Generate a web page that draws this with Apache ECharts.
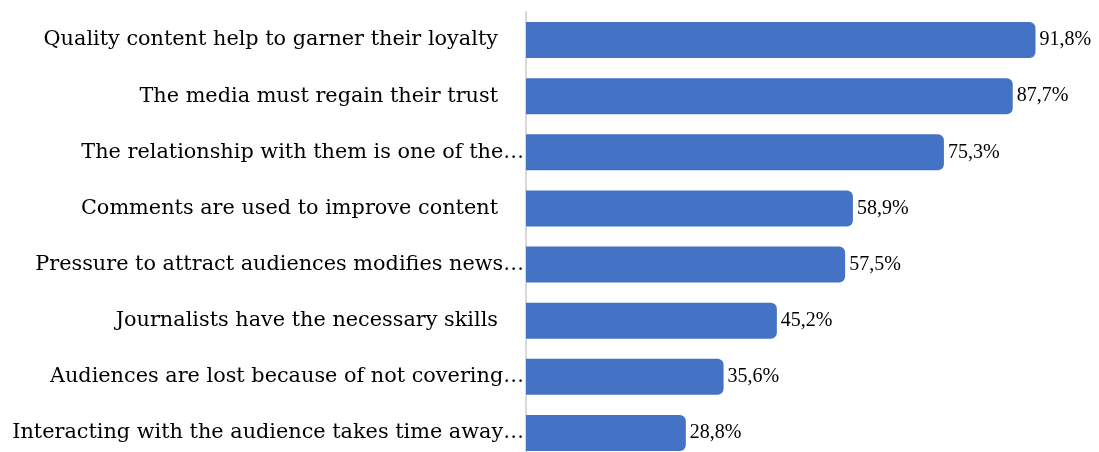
<!DOCTYPE html>
<html>
<head>
<meta charset="utf-8">
<script src="https://cdn.jsdelivr.net/npm/echarts@6/dist/echarts.min.js"></script>
<style>
  html, body { margin: 0; padding: 0; background: #ffffff; }
  #chart { width: 1099px; height: 452px; }
</style>
</head>
<body>
<div id="chart"></div>
<script>
// Statements, top to bottom
const categories = [
  'Quality content help to garner their loyalty',
  'The media must regain their trust',
  'The relationship with them is one of the\u2026',
  'Comments are used to improve content',
  'Pressure to attract audiences modifies news\u2026',
  'Journalists have the necessary skills',
  'Audiences are lost because of not covering\u2026',
  'Interacting with the audience takes time away\u2026'
];

// Share of agreement, percent
const values = [91.8, 87.7, 75.3, 58.9, 57.5, 45.2, 35.6, 28.8];

const LABEL_FONT = '"DejaVu Serif", serif';
const VALUE_FONT = '"Liberation Serif", "DejaVu Serif", serif';

const chart = echarts.init(document.getElementById('chart'), null, { renderer: 'canvas' });

chart.setOption({
  animation: false,
  backgroundColor: '#ffffff',
  grid: { left: 526, top: 12, height: 449, width: 555, containLabel: false, outerBoundsMode: 'none' },
  xAxis: {
    type: 'value',
    min: 0,
    max: 100,
    show: false
  },
  yAxis: {
    type: 'category',
    data: categories,
    inverse: true,
    axisLine: { show: true, lineStyle: { color: '#d9d9d9', width: 2 } },
    axisTick: { show: false },
    splitLine: { show: false },
    axisLabel: {
      margin: 2,
      formatter: function (v) {
        // Truncated statements sit right against the axis, full ones keep a gap
        return v.endsWith('\u2026') ? '{t|' + v + '}' : '{f|' + v + '}';
      },
      rich: {
        t: { fontFamily: LABEL_FONT, fontSize: 20.8, color: '#000000' },
        f: { fontFamily: LABEL_FONT, fontSize: 20.8, color: '#000000', padding: [0, 26, 0, 0] }
      }
    }
  },
  series: [{
    type: 'bar',
    data: values,
    barCategoryGap: '36%',
    itemStyle: {
      color: '#4472c4',
      borderRadius: [0, 6, 6, 0]
    },
    label: {
      show: true,
      position: 'right',
      distance: 4,
      fontFamily: VALUE_FONT,
      fontSize: 20,
      color: '#000000',
      formatter: function (p) {
        return p.value.toFixed(1).replace('.', ',') + '%';
      }
    }
  }]
});
</script>
</body>
</html>
